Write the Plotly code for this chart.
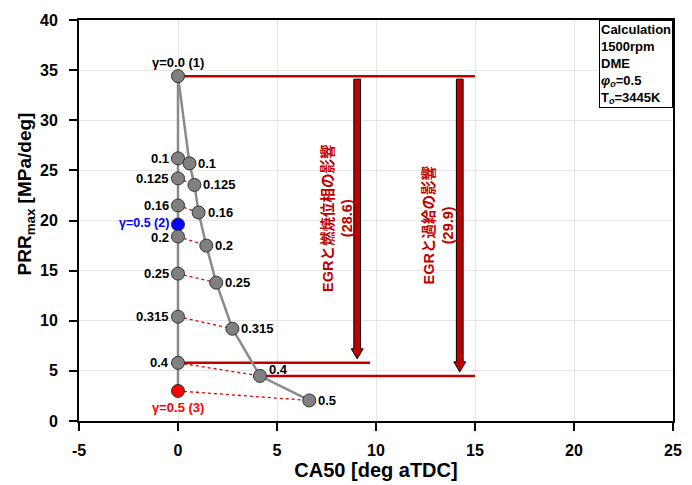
import plotly.graph_objects as go

# CA50 / PRRmax for the EGR sweep (gamma), two cases
# Left column: CA50 held at TDC
gamma_left = ["γ=0.0 (1)", "0.1", "0.125", "0.16", "γ=0.5 (2)", "0.2", "0.25", "0.315", "0.4", "γ=0.5 (3)"]
ca50_left = [0, 0, 0, 0, 0, 0, 0, 0, 0, 0]
prr_left = [34.4, 26.2, 24.2, 21.5, 19.6, 18.4, 14.7, 10.4, 5.8, 3.0]

# Right branch: CA50 free to retard with EGR
gamma_right = ["0.1", "0.125", "0.16", "0.2", "0.25", "0.315", "0.4", "0.5"]
ca50_right = [0.58, 0.83, 1.04, 1.43, 1.93, 2.75, 4.14, 6.63]
prr_right = [25.7, 23.55, 20.8, 17.5, 13.8, 9.2, 4.5, 2.05]

x_ticks = [-5, 0, 5, 10, 15, 20, 25]
x_tick_text = ["-5", "0", "5", "10", "15", "20", "25"]
y_ticks = [0, 5, 10, 15, 20, 25, 30, 35, 40]

FONT = "Arial, 'Liberation Sans', 'Noto Sans CJK JP', sans-serif"
DARKRED = "#c00000"
GRAY = "#8a8a8a"

fig = go.Figure()

top_x, top_y = ca50_left[0], prr_left[0]
left04_y = prr_left[gamma_left.index("0.4")]
right04_x = ca50_right[gamma_right.index("0.4")]
right04_y = prr_right[gamma_right.index("0.4")]

# reference levels (dark red horizontal lines)
for xs, ys in [([top_x, 15], [top_y, top_y]),
               ([0, 9.7], [left04_y, left04_y]),
               ([right04_x, 15], [right04_y, right04_y])]:
    fig.add_trace(go.Scatter(x=xs, y=ys, mode="lines",
                             line=dict(color=DARKRED, width=2.5),
                             hoverinfo="skip", showlegend=False))

# gray connecting lines
fig.add_trace(go.Scatter(x=ca50_left, y=prr_left, mode="lines",
                         line=dict(color=GRAY, width=2.5), showlegend=False))
fig.add_trace(go.Scatter(x=[top_x] + ca50_right, y=[top_y] + prr_right, mode="lines",
                         line=dict(color=GRAY, width=2.5), showlegend=False))

# dotted links between equal-gamma points
pairs = [(g, g) for g in gamma_right if g != "0.5"] + [("γ=0.5 (3)", "0.5")]
for gl, gr in pairs:
    i, j = gamma_left.index(gl), gamma_right.index(gr)
    fig.add_trace(go.Scatter(x=[ca50_left[i], ca50_right[j]], y=[prr_left[i], prr_right[j]],
                             mode="lines", line=dict(color="#e00000", width=1.3, dash="dot"),
                             showlegend=False))

# markers
fill_left = []
for g in gamma_left:
    if g == "γ=0.5 (2)":
        fill_left.append("#0000ff")
    elif g == "γ=0.5 (3)":
        fill_left.append("#ff0000")
    else:
        fill_left.append("#808080")

fig.add_trace(go.Scatter(x=ca50_left, y=prr_left, mode="markers",
                         marker=dict(size=13, color=fill_left, line=dict(color="#333333", width=1)),
                         showlegend=False))
fig.add_trace(go.Scatter(x=ca50_right, y=prr_right, mode="markers",
                         marker=dict(size=13, color="#808080", line=dict(color="#333333", width=1)),
                         showlegend=False))

# point labels
lab_font = dict(family=FONT, size=13, color="black", weight="bold")
for g, x, y in zip(gamma_left, ca50_left, prr_left):
    if g.startswith("γ=0.0"):
        fig.add_annotation(x=x, y=y, text=g, showarrow=False, yshift=14,
                           xanchor="center", yanchor="middle", font=lab_font)
    elif g == "γ=0.5 (2)":
        fig.add_annotation(x=x, y=y, text=g, showarrow=False, xshift=-7, yshift=2,
                           xanchor="right", yanchor="middle",
                           font={**lab_font, "size": 12.5, "color": "#0000ff"})
    elif g == "γ=0.5 (3)":
        fig.add_annotation(x=x, y=y, text=g, showarrow=False, yshift=-17,
                           xanchor="center", yanchor="middle", font={**lab_font, "color": "#ff0000"})
    else:
        fig.add_annotation(x=x, y=y, text=g, showarrow=False, xshift=-7,
                           yshift=-1 if g == "0.2" else 0,
                           xanchor="right", yanchor="middle", font=lab_font)
for g, x, y in zip(gamma_right, ca50_right, prr_right):
    ys = 6 if g == "0.4" else 0
    fig.add_annotation(x=x, y=y, text=g, showarrow=False, xshift=7, yshift=ys,
                       xanchor="left", yanchor="middle", font=lab_font)

# block arrows for the two PRR reductions
def block_arrow(xc, y0, y1):
    hw, hh, hl = 0.17, 0.3, 1.0
    yt = y0 - 0.3
    yb = y1 + 0.4
    return (f"M {xc-hw},{yt} L {xc+hw},{yt} L {xc+hw},{yb+hl} L {xc+hh},{yb+hl} "
            f"L {xc},{yb} L {xc-hh},{yb+hl} L {xc-hw},{yb+hl} Z")

for xc, ybot in [(9.05, left04_y), (14.23, right04_y)]:
    fig.add_shape(type="path", path=block_arrow(xc, top_y, ybot), xref="x", yref="y",
                  fillcolor=DARKRED, line=dict(color="black", width=1))

arrow_font = dict(family=FONT, size=14.5, color=DARKRED, weight="bold")
fig.add_annotation(x=8.0, y=20.2, textangle=-90, showarrow=False,
                   text=f"EGRと燃焼位相の影響<br>({top_y - left04_y:.1f})",
                   xanchor="center", yanchor="middle", font=arrow_font)
fig.add_annotation(x=13.13, y=19.5, textangle=-90, showarrow=False,
                   text=f"EGRと過給の影響<br>({top_y - right04_y:.1f})",
                   xanchor="center", yanchor="middle", font=arrow_font)

# condition box
fig.add_annotation(xref="paper", yref="paper", x=1.0, y=1.0, xanchor="right", yanchor="top",
                   showarrow=False, align="left", bordercolor="black", borderwidth=1,
                   borderpad=1, bgcolor="white",
                   text=("Calculation<br>1500rpm<br>DME<br><i>φ</i><sub><i>o</i></sub>=0.5<br>"
                         "T<sub><i>o</i></sub>=3445K"),
                   font=dict(family=FONT, size=13, color="black", weight="bold"))

# y-axis title
fig.add_annotation(xref="paper", yref="paper", x=-0.0896, y=0.567, textangle=-90,
                   showarrow=False, xanchor="center", yanchor="middle",
                   text="PRR<sub>max</sub> [MPa/deg]",
                   font=dict(family=FONT, size=19, color="black", weight="bold"))

axis_common = dict(showline=True, linecolor="black", linewidth=2, mirror=True,
                   ticks="outside", ticklen=8, tickwidth=2, tickcolor="black",
                   showgrid=True, gridcolor="#e6e6e6", gridwidth=1, zeroline=False,
                   tickfont=dict(family=FONT, size=16, color="black", weight="bold"))

fig.update_xaxes(range=[-5, 25], tickvals=x_ticks, ticktext=x_tick_text, ticklabelstandoff=6,
                 title=dict(text="CA50 [deg aTDC]", standoff=2,
                            font=dict(family=FONT, size=20, color="black", weight="bold")),
                 **axis_common)
fig.update_yaxes(range=[0, 40], tickvals=y_ticks, ticklabelstandoff=8, **axis_common)

fig.update_layout(width=692, height=485, margin=dict(l=79, r=10, t=20, b=63),
                  plot_bgcolor="white", paper_bgcolor="white", showlegend=False)

fig.write_html("out.html")
